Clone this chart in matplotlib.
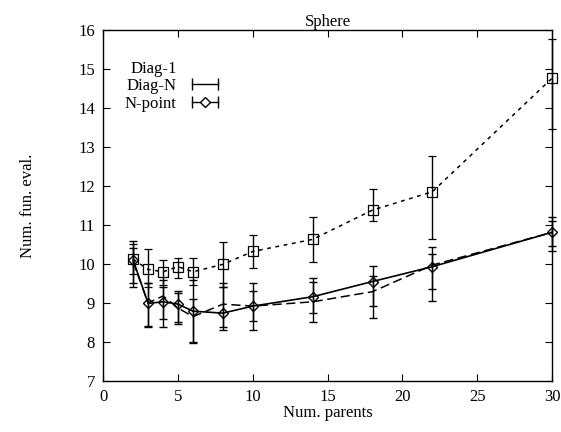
import numpy as np
import matplotlib.pyplot as plt
from matplotlib.lines import Line2D
from matplotlib.legend_handler import HandlerTuple, HandlerLine2D

plt.rcParams['font.family'] = ['Liberation Serif', 'DejaVu Serif']

# datos
parents = [2, 3, 4, 5, 6, 8, 10, 14, 18, 22, 30]

diag1 = [10.12, 9.86, 9.80, 9.93, 9.80, 9.99, 10.32, 10.63, 11.38, 11.85, 14.76]
diag1_lo = [9.75, 9.40, 9.45, 9.65, 9.45, 9.40, 9.90, 10.05, 11.10, 10.65, 13.46]
diag1_hi = [10.50, 10.38, 10.10, 10.16, 10.15, 10.57, 10.74, 11.21, 11.92, 12.77, 15.77]

diagN = [10.05, 9.00, 9.18, 8.87, 8.65, 8.97, 8.92, 9.03, 9.29, 9.97, 10.81]
diagN_lo = [9.50, 8.40, 8.60, 8.50, 8.00, 8.30, 8.55, 8.75, 8.93, 9.35, 10.45]
diagN_hi = [10.60, 9.50, 9.60, 9.30, 9.10, 9.40, 9.30, 9.55, 9.70, 10.26, 11.10]

npoint = [10.10, 8.99, 9.03, 8.97, 8.79, 8.74, 8.92, 9.16, 9.55, 9.93, 10.81]
npoint_lo = [9.40, 8.38, 8.39, 8.45, 7.98, 8.38, 8.30, 8.50, 8.62, 9.05, 10.32]
npoint_hi = [10.40, 9.50, 9.40, 9.25, 9.60, 9.50, 9.50, 9.64, 9.96, 10.44, 11.20]


def err(y, lo, hi):
    y = np.array(y)
    return [y - np.array(lo), np.array(hi) - y]


fig = plt.figure(figsize=(5.61, 4.32), dpi=100)
ax = fig.add_axes([0.184, 0.118, 0.8, 0.813])

ekw = dict(color='black', ecolor='black', elinewidth=1.0, capsize=3, capthick=1.0)

series = [
    (diag1, diag1_lo, diag1_hi, dict(linestyle=(0, (2.5, 3)), linewidth=1.1, marker='s',
                                     markersize=7, markerfacecolor='none', markeredgewidth=0.9)),
    (diagN, diagN_lo, diagN_hi, dict(linestyle=(0, (6, 3)), linewidth=1.1, marker='none')),
    (npoint, npoint_lo, npoint_hi, dict(linestyle='-', linewidth=1.2, marker='D', markersize=5,
                                        markerfacecolor='none', markeredgewidth=1.0)),
]
for y, lo, hi, kw in series:
    cont = ax.errorbar(parents, y, yerr=err(y, lo, hi), **kw, **ekw)
    for art in cont.lines[0:1] + tuple(cont.lines[1]) + tuple(cont.lines[2]):
        art.set_clip_on(False)

# muestras de leyenda al estilo gnuplot
blank = Line2D([], [], linestyle='none', marker='none')
h2 = Line2D([], [], color='black', linewidth=1.0, marker='|', markersize=8)
cap3 = Line2D([], [], color='black', linewidth=1.0, marker='|', markersize=8)
dia3 = Line2D([], [], color='black', linestyle='none', marker='D', markersize=5,
              markerfacecolor='white')
ax.legend([blank, h2, (cap3, dia3)], ['Diag-1', 'Diag-N', 'N-point'],
          loc='upper left', bbox_to_anchor=(0.015, 0.955), frameon=False,
          markerfirst=False, numpoints=2, handlelength=2.2, handletextpad=0.6,
          labelspacing=0.1, fontsize=12,
          handler_map={tuple: HandlerTuple(ndivide=1),
                       dia3: HandlerLine2D(numpoints=1)})

ax.set_xlim(0, 30)
ax.set_ylim(7, 16)
ax.set_xticks([0, 5, 10, 15, 20, 25, 30])
ax.set_yticks(range(7, 17))
ax.tick_params(direction='in', top=True, right=True, labelsize=12, length=5, pad=6)
for s in ax.spines.values():
    s.set_linewidth(1.0)

ax.set_title('Sphere', fontsize=12, pad=3)
ax.set_xlabel('Num. parents', fontsize=12, labelpad=0)
ax.set_ylabel('Num. fun. eval.', fontsize=12, labelpad=30)

fig.savefig('out.png', dpi=100)
